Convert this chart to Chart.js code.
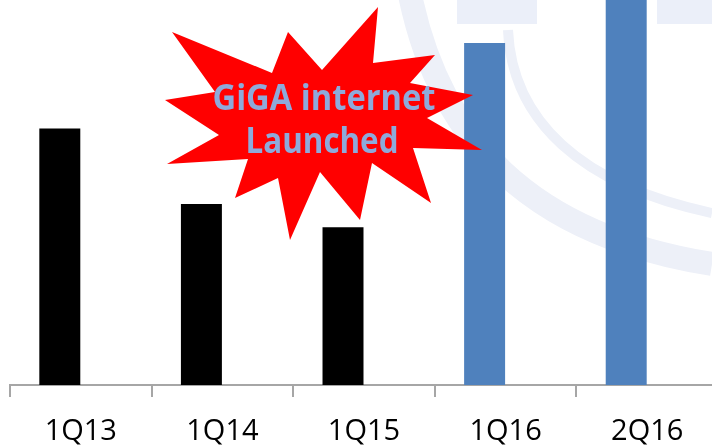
<!DOCTYPE html>
<html>
<head>
<meta charset="utf-8">
<script src="https://cdn.jsdelivr.net/npm/chart.js@4/dist/chart.umd.min.js"></script>
<style>
  html, body { margin: 0; padding: 0; background: #fff; overflow: hidden; }
  #wrap { position: relative; width: 720px; height: 446px; }
  #wrap svg, #wrap canvas { position: absolute; left: 0; top: 0; }
</style>
</head>
<body>
<div id="wrap">
  <!-- faint logo watermark behind the chart -->
  <svg id="bg" width="720" height="446">
    <g fill="none" stroke="#edf0f8">
      <path d="M 410 -5 C 440 140, 530 235, 712 264" stroke-width="24" />
      <path d="M 508 30 C 512 120, 580 185, 712 213" stroke-width="10" />
    </g>
    <rect x="457" y="0" width="80" height="24" fill="#ebeff9" />
    <rect x="657" y="0" width="60" height="24" fill="#ebeff9" />
  </svg>
  <canvas id="chart" width="720" height="446"></canvas>
  <!-- launch callout -->
  <svg id="burst" width="720" height="446">
    <polygon fill="#ff0000"
      points="172,32 272,73 288,32 322,70 378,7 373,63 435,55 410,83 473,95 427,118 482,150 413,148 431,203 372,163 360,220 320,172 290,240 278,178 235,198 248,159 167,164 219,135 165,100 215,92" />
    <g fill="#8eaadb" font-family="'Open Sans', sans-serif" font-weight="bold" font-size="35" text-anchor="middle">
      <text x="324" y="110" textLength="223" lengthAdjust="spacingAndGlyphs">GiGA internet</text>
      <text x="322" y="153" textLength="153" lengthAdjust="spacingAndGlyphs">Launched</text>
    </g>
  </svg>
</div>
<script>
const quarters = ["1Q13", "1Q14", "1Q15", "1Q16", "2Q16"];
// before GiGA internet launch (black) / after (blue)
const beforeLaunch = [66.6, 47, 41, null, null];
const afterLaunch = [null, null, null, 88.8, 105];
const yMax = 100;

new Chart(document.getElementById("chart"), {
  type: "bar",
  data: {
    labels: quarters,
    datasets: [
      {
        label: "Before launch",
        data: beforeLaunch,
        backgroundColor: "#000000",
        stack: "main",
      },
      {
        label: "After launch",
        data: afterLaunch,
        backgroundColor: "#4f81bd",
        stack: "main",
      },
      {
        // empty slot so the bars sit left of the category centre
        label: "",
        data: [],
        stack: "pad",
      },
    ],
  },
  options: {
    responsive: false,
    animation: false,
    categoryPercentage: 0.593,
    barPercentage: 0.976,
    layout: { padding: { left: 10, right: 2, top: 0, bottom: 0 } },
    plugins: { legend: { display: false }, tooltip: { enabled: false } },
    scales: {
      x: {
        afterFit: (scale) => {
          scale.height = 61;
        },
        grid: {
          drawOnChartArea: false,
          drawTicks: true,
          tickLength: 12,
          color: "#a6a6a6",
          lineWidth: 2,
        },
        border: { display: true, color: "#a6a6a6", width: 2 },
        ticks: {
          color: "#000",
          padding: 17,
          font: { family: "'Open Sans', sans-serif", size: 29 },
          maxRotation: 0,
        },
      },
      y: {
        display: false,
        min: 0,
        max: yMax,
      },
    },
  },
});
</script>
</body>
</html>
